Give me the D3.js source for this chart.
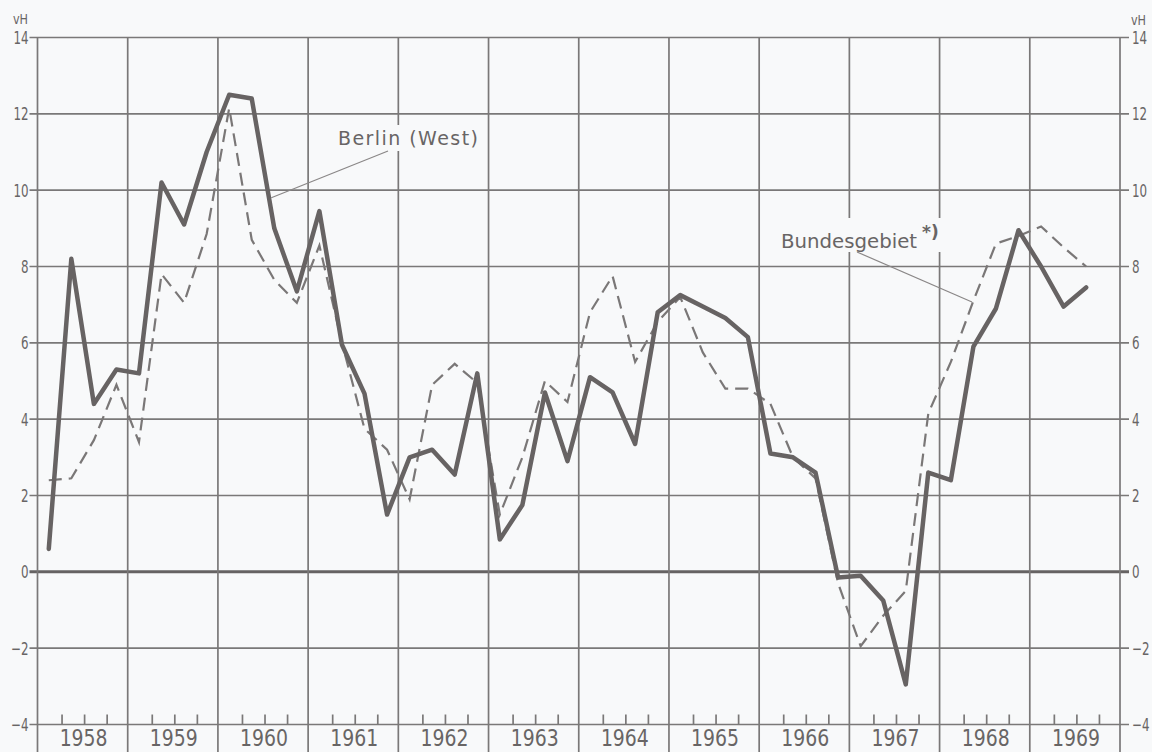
<!DOCTYPE html>
<meta charset="utf-8">
<html>
<head>
    <style>
        body { margin: 0; background: #f8f9fa; }
        svg { display: block; background: #f8f9fa; }
        .grid line { stroke: #7a7878; stroke-width: 1.7px; }
        .grid line.zero { stroke: #666363; stroke-width: 3px; }
        .ylab { font: 18px "DejaVu Sans", sans-serif; fill: #686565; }
        .year { font: 23px "DejaVu Sans", sans-serif; fill: #686565; }
        .note { font: 19px "DejaVu Sans", sans-serif; fill: #686565; }
        .leader { stroke: #8a8787; stroke-width: 1.2px; }
        .berlin { fill: none; stroke: #676363; stroke-width: 4.5px; stroke-linejoin: round; stroke-linecap: round; }
        .bund { fill: none; stroke: #7a7777; stroke-width: 2.2px; stroke-dasharray: 13 7; }
    </style>
    <script src="https://d3js.org/d3.v7.min.js"></script>
</head>
<body>
<svg id="svg" width="1152" height="752"></svg>
<script>

    // years shown on the x axis, one column each, four quarters per year
    var years = [1958, 1959, 1960, 1961, 1962, 1963, 1964, 1965, 1966, 1967, 1968, 1969];
    var quartersPerYear = 4;

    // change in vH, quarterly, from 1958 Q1 to 1969 Q3
    var berlin = [
        0.6, 8.2, 4.4, 5.3,
        5.2, 10.2, 9.1, 11.0,
        12.5, 12.4, 9.0, 7.35,
        9.45, 5.95, 4.67, 1.5,
        3.0, 3.2, 2.55, 5.2,
        0.85, 1.75, 4.7, 2.9,
        5.1, 4.7, 3.35, 6.8,
        7.25, 6.95, 6.65, 6.15,
        3.1, 3.0, 2.6, -0.15,
        -0.1, -0.75, -2.95, 2.6,
        2.4, 5.9, 6.9, 8.95,
        8.0, 6.95, 7.45
    ];
    var bundesgebiet = [
        2.4, 2.45, 3.45, 4.9,
        3.4, 7.8, 7.05, 8.85,
        12.15, 8.7, 7.65, 7.05,
        8.55, 6.0, 3.75, 3.2,
        1.9, 4.9, 5.45, 4.95,
        1.5, 3.0, 5.0, 4.45,
        6.8, 7.75, 5.5, 6.55,
        7.2, 5.75, 4.8, 4.8,
        4.4, 3.0, 2.45, -0.3,
        -1.95, -1.15, -0.5, 4.15,
        5.5, 7.1, 8.6, 8.8,
        9.05, 8.5, 8.0
    ];

    var yTicks = [-4, -2, 0, 2, 4, 6, 8, 10, 12, 14];
    var unitLabel = "vH";
    var berlinLabel = "Berlin (West)";
    var bundLabel = "Bundesgebiet";

    var svg = d3.select("svg");

    var x = d3.scaleLinear()
        .domain([years[0], years[years.length - 1] + 1])
        .range([37.5, 1120]);

    var y = d3.scaleLinear()
        .domain([-4, 14])
        .range([724.5, 37.5]);

    function qx(i) {
        return x(years[0] + (i + 0.5) / quartersPerYear);
    }

    // narrow lettering: squeeze text horizontally
    function narrow(px, py, sx) {
        return "translate(" + px + "," + py + ") scale(" + sx + ",1)";
    }

    function fmt(d) {
        return d < 0 ? "\u2212" + Math.abs(d) : String(d);
    }

    // grid
    var grid = svg.append("g").attr("class", "grid");

    grid.selectAll(".h")
        .data(yTicks)
        .enter().append("line")
        .attr("class", function (d) { return d === 0 ? "zero" : "h"; })
        .attr("x1", x.range()[0] - 8)
        .attr("x2", x.range()[1] + 9)
        .attr("y1", function (d) { return y(d); })
        .attr("y2", function (d) { return y(d); });

    var yearEdges = years.concat([years[years.length - 1] + 1]);
    grid.selectAll(".v")
        .data(yearEdges)
        .enter().append("line")
        .attr("class", "v")
        .attr("x1", function (d) { return x(d); })
        .attr("x2", function (d) { return x(d); })
        .attr("y1", y(14))
        .attr("y2", 752);

    // quarter ticks on the bottom line
    var qTicks = [];
    years.forEach(function (yr) {
        for (var q = 1; q < quartersPerYear; q++) qTicks.push(yr + q / quartersPerYear);
    });
    grid.selectAll(".q")
        .data(qTicks)
        .enter().append("line")
        .attr("class", "q")
        .attr("x1", function (d) { return x(d) + 2; })
        .attr("x2", function (d) { return x(d) + 2; })
        .attr("y1", y(-4))
        .attr("y2", y(-4) - 10);

    // y labels, both sides
    svg.selectAll(".yl")
        .data(yTicks)
        .enter().append("text")
        .attr("class", "ylab")
        .attr("transform", function (d) { return narrow(x.range()[0] - 9, y(d), 0.66); })
        .attr("dy", "0.36em")
        .style("text-anchor", "end")
        .text(fmt);

    svg.selectAll(".yr")
        .data(yTicks)
        .enter().append("text")
        .attr("class", "ylab")
        .attr("transform", function (d) { return narrow(x.range()[1] + 12, y(d), 0.66); })
        .attr("dy", "0.36em")
        .style("text-anchor", "start")
        .text(fmt);

    svg.append("text").attr("class", "ylab")
        .attr("transform", narrow(13, 24, 0.8))
        .style("font-size", "14px")
        .text(unitLabel);
    svg.append("text").attr("class", "ylab")
        .attr("transform", narrow(1131, 25, 0.8))
        .style("font-size", "14px")
        .text(unitLabel);

    // year labels
    svg.selectAll(".year")
        .data(years)
        .enter().append("text")
        .attr("class", "year")
        .attr("transform", function (d) { return narrow(x(d + 0.5) + 1, 746, 0.82); })
        .style("text-anchor", "middle")
        .text(function (d) { return d; });

    // labels with leader lines
    svg.append("rect")
        .attr("x", 334).attr("y", 125).attr("width", 150).attr("height", 26)
        .attr("fill", "#f8f9fa");
    svg.append("text").attr("class", "note")
        .attr("x", 338).attr("y", 145)
        .attr("textLength", 140)
        .attr("lengthAdjust", "spacing")
        .text(berlinLabel);
    svg.append("line").attr("class", "leader")
        .attr("x1", 388).attr("y1", 151)
        .attr("x2", qx(10) - 3).attr("y2", y(9.8));

    svg.append("rect")
        .attr("x", 778).attr("y", 218).attr("width", 168).attr("height", 34)
        .attr("fill", "#f8f9fa");
    svg.append("text").attr("class", "note")
        .attr("x", 781).attr("y", 248)
        .style("font-size", "20px")
        .attr("textLength", 136)
        .attr("lengthAdjust", "spacingAndGlyphs")
        .text(bundLabel);
    svg.append("text").attr("class", "note")
        .attr("x", 922).attr("y", 238)
        .style("font-size", "17px")
        .style("font-weight", "bold")
        .text("*)");
    svg.append("line").attr("class", "leader")
        .attr("x1", 857).attr("y1", 252)
        .attr("x2", 972).attr("y2", 302);

    // series
    var line = d3.line()
        .x(function (d, i) { return qx(i); })
        .y(function (d) { return y(d); });

    svg.append("path")
        .datum(bundesgebiet)
        .attr("class", "bund")
        .attr("d", line);

    svg.append("path")
        .datum(berlin)
        .attr("class", "berlin")
        .attr("d", line);

</script>
</body>
</html>
